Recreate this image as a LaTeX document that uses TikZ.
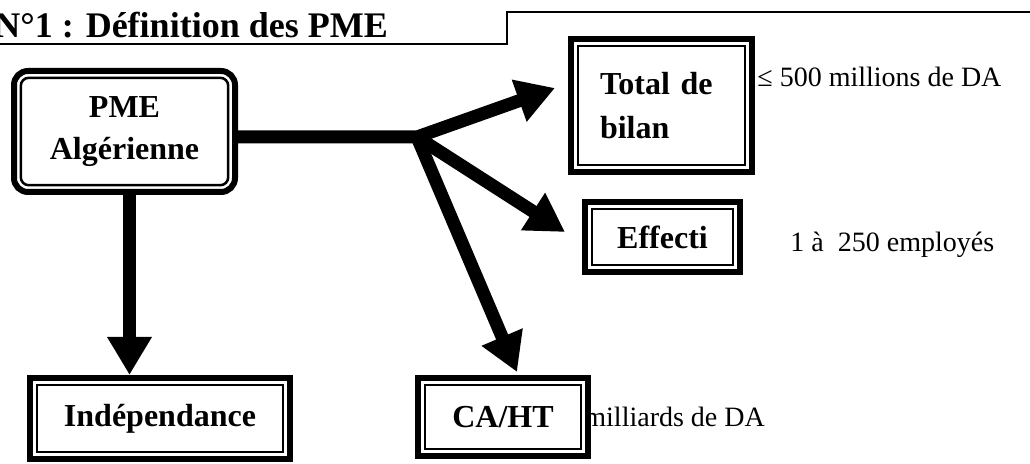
\documentclass[tikz,border=0pt]{standalone}
\usepackage{fontspec}
\setmainfont{Liberation Serif}
\usetikzlibrary{arrows.meta}

\begin{document}
\begin{tikzpicture}[x=0.5pt, y=-0.5pt,
    frame/.style={draw, line width=3pt, fill=white, inner sep=0pt, align=center,
        font=\bfseries\fontsize{16}{22}\selectfont,
        path picture={\draw[line width=1.25pt, fill=none]
            ([shift={(3.4pt,-3.4pt)}]path picture bounding box.north west) rectangle
            ([shift={(-3.4pt,3.4pt)}]path picture bounding box.south east);}},
    rframe/.style={draw, line width=3pt, fill=white, inner sep=0pt, align=center,
        rounded corners=7pt, font=\bfseries\fontsize{16}{21}\selectfont,
        path picture={\draw[line width=1.25pt, fill=none, rounded corners=4pt]
            ([shift={(3.4pt,-3.4pt)}]path picture bounding box.north west) rectangle
            ([shift={(-3.4pt,3.4pt)}]path picture bounding box.south east);}},
    side/.style={inner sep=0pt, font=\fontsize{14}{17}\selectfont},
    bigarrow/.style={line width=6.5pt, -{Triangle[length=19pt, width=21pt]}}]
    \useasboundingbox (0,0) rectangle (1030,464);

    % Title
    \node[anchor=base west, inner sep=0pt, font=\bfseries\fontsize{18}{21}\selectfont]
        (title) at (-6,38) {N°1 : Définition des PME};
    \draw[line width=0.75pt] (0,44) -- (507,44) -- (507,12) -- (1030,12);

    % Values beside the boxes
    \node[side, anchor=base west] (bilanval) at (757,87) {≤ 500 millions de DA};
    \node[side, anchor=base west] (effval) at (790,252) {1 à \ 250 employés};
    \node[side, anchor=base west] (caval) at (584,427) {milliards de DA};

    % Boxes
    \node[rframe, minimum width=110.5pt, minimum height=60.5pt] (pme) at (124.5,131.5) {PME\\Algérienne};
    \node[frame, minimum width=90.5pt, minimum height=66.5pt, text width=61.5pt, align=left]
        (total) at (661.5,105.5) {Total de\\bilan\\[-6pt]};
    \node[frame, minimum width=77.5pt, minimum height=35pt] (effectif) at (662.5,237) {\raisebox{-3pt}{Effecti}};
    \node[frame, minimum width=85pt, minimum height=39pt] (ca) at (503,417) {CA/HT};
    \node[frame, minimum width=130pt, minimum height=40.5pt] (indep) at (160,418.5) {Indépendance};

    % Arrows
    \coordinate (junc) at (417,137);
    \draw[bigarrow] (pme.east |- junc) -- (junc) -- ([shift={(-13,-17.5)}]total.west);
    \draw[bigarrow] (junc) -- ([shift={(-17,-5)}]effectif.west);
    \draw[bigarrow] (junc) -- ([shift={(14,-3)}]ca.north);
    \draw[bigarrow] ([xshift=2.5]pme.south) -- ([xshift=2.5]pme.south |- indep.north);
\end{tikzpicture}
\end{document}
